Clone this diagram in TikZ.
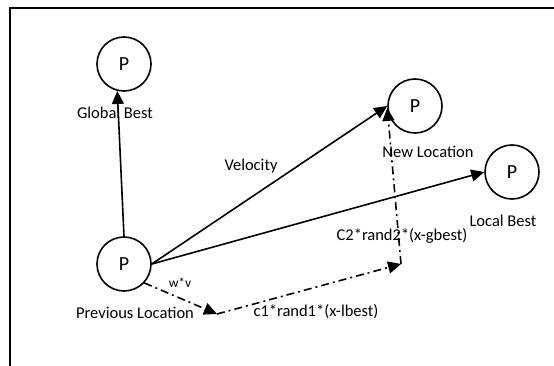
\documentclass[tikz,border=0pt]{standalone}
\usepackage{fontspec}
\setmainfont{Carlito}
\usetikzlibrary{arrows.meta}
\begin{document}
\begin{tikzpicture}[x=1pt,y=-1pt,
  pnode/.style={draw,circle,line width=1.6pt,minimum size=54pt,inner sep=0pt,font=\fontsize{20}{22}\selectfont},
  lbl/.style={inner sep=0pt,font=\fontsize{16.5}{19}\selectfont},
  small/.style={inner sep=0pt,font=\fontsize{13.5}{15}\selectfont},
  arr/.style={line width=1.6pt,-{Triangle[length=13pt,width=12pt]}},
  dd/.style={arr,dash pattern=on 8pt off 4pt on 2pt off 4pt}]
\useasboundingbox (0,0) rectangle (554,366);
\draw[line width=2pt] (554,8.5) -- (9.5,8.5) -- (9.5,366);
\node[pnode] (gb) at (124,64) {P};
\node[pnode] (prev) at (124,264) {P};
\node[pnode] (nl) at (415,106) {P};
\node[pnode] (lb) at (512,172) {P};
\node[lbl] (tgb) at (115,113) {Global Best};
\node[lbl] (tprev) at (135,313) {Previous Location};
\node[lbl] (tnl) at (428,152) {New Location};
\node[lbl] (tlb) at (503,221) {Local Best};
\node[lbl] (tvel) at (251,166) {Velocity};
\node[small] (twv) at (180,283) {w*v};
\node[lbl] (tc1) at (316,312) {c1*rand1*(x-lbest)};
\node[lbl] (tc2) at (402,236) {C2*rand2*(x-gbest)};
\coordinate (w1) at (217,314);
\coordinate (w2) at (401,264);
\draw[arr] (prev.north) -- (gb.256);
\draw[arr] (prev.east) -- (nl.west);
\draw[arr] (prev.east) -- (lb.west);
\draw[dd] (prev.-43) -- (w1);
\draw[dd] (w1) -- (w2);
\draw[dd] (w2) -- (nl.184);
\end{tikzpicture}
\end{document}
